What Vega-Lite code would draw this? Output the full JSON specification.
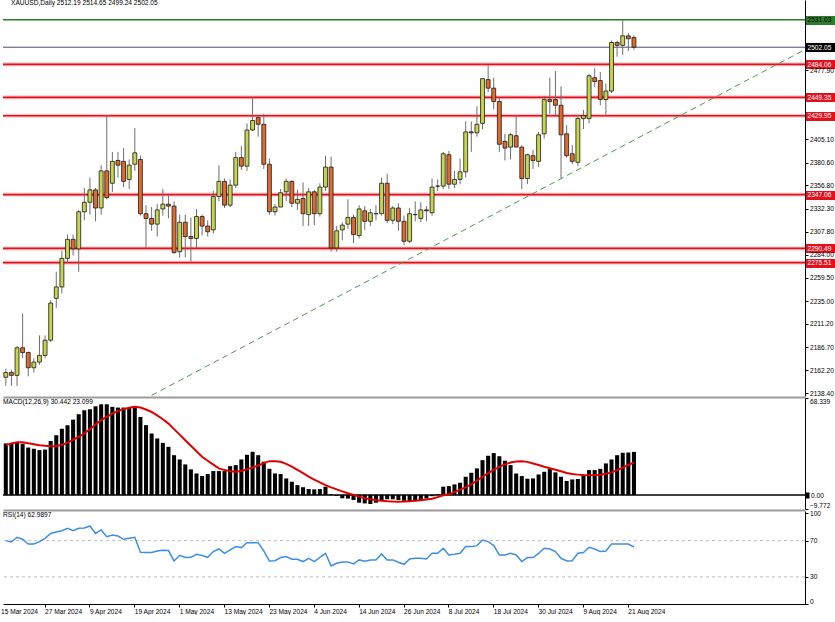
{
"$schema": "https://vega.github.io/schema/vega-lite/v6.json",
"background": "#ffffff",
"padding": {"left": 0, "top": 0, "right": 0, "bottom": 0},
"spacing": 2,
"bounds": "flush",
"config": {"view": {"stroke": null}, "font": "Liberation Sans", "axis": {"labelFont": "Liberation Sans", "labelFontSize": 6.6, "labelColor": "#000000", "grid": false}},
"resolve": {"scale": {"x": "independent", "y": "independent"}},
"datasets": {
"levels": [{"p":2531.03,"kind":"top"},{"p":2502.05,"kind":"bid"},{"p":2484.06,"kind":"res"},{"p":2449.35,"kind":"res"},{"p":2429.95,"kind":"res"},{"p":2347.06,"kind":"res"},{"p":2290.49,"kind":"res"},{"p":2275.51,"kind":"res"}],
"trend": [{"d":"2024-04-24","p":2136},{"d":"2024-10-03","p":2498}],
"zero": [{"v":0}],
"rsilv": [{"v":70},{"v":30}],
"candles": [
{"d":"2024-03-18","o":2155,"h":2164,"l":2146,"c":2160,"m":36.4,"s":35.2,"r":70},
{"d":"2024-03-19","o":2160,"h":2163,"l":2146,"c":2157,"m":36.8,"s":36.3,"r":68.5},
{"d":"2024-03-20","o":2157,"h":2188,"l":2146,"c":2186,"m":36.8,"s":37.3,"r":73.7},
{"d":"2024-03-21","o":2186,"h":2222,"l":2175,"c":2181,"m":36.2,"s":37.2,"r":71.5},
{"d":"2024-03-22","o":2181,"h":2182,"l":2156,"c":2165,"m":33.5,"s":36.6,"r":66.3},
{"d":"2024-03-25","o":2165,"h":2175,"l":2160,"c":2171,"m":32.6,"s":35.9,"r":66.3},
{"d":"2024-03-26","o":2171,"h":2199,"l":2168,"c":2178,"m":31.7,"s":35.2,"r":68.9},
{"d":"2024-03-27","o":2178,"h":2199,"l":2175,"c":2194,"m":32.1,"s":34.7,"r":72.6},
{"d":"2024-03-28","o":2194,"h":2236,"l":2192,"c":2233,"m":38.2,"s":34.5,"r":78},
{"d":"2024-04-01","o":2238,"h":2266,"l":2228,"c":2250,"m":42.2,"s":34.5,"r":79.5},
{"d":"2024-04-02","o":2250,"h":2288,"l":2243,"c":2280,"m":46.7,"s":35.5,"r":81},
{"d":"2024-04-03","o":2280,"h":2305,"l":2275,"c":2300,"m":49.3,"s":36.8,"r":83.6},
{"d":"2024-04-04","o":2300,"h":2305,"l":2283,"c":2290,"m":53.2,"s":39,"r":81},
{"d":"2024-04-05","o":2290,"h":2331,"l":2266,"c":2329,"m":57,"s":41,"r":83.6},
{"d":"2024-04-08","o":2329,"h":2354,"l":2320,"c":2339,"m":59.8,"s":43.4,"r":84},
{"d":"2024-04-09","o":2339,"h":2365,"l":2326,"c":2352,"m":60.5,"s":46.5,"r":86.2},
{"d":"2024-04-10","o":2352,"h":2354,"l":2319,"c":2333,"m":62.6,"s":49.7,"r":78},
{"d":"2024-04-11","o":2333,"h":2378,"l":2326,"c":2372,"m":64,"s":52.8,"r":81.8},
{"d":"2024-04-12","o":2372,"h":2431,"l":2342,"c":2344,"m":64,"s":55.2,"r":74.4},
{"d":"2024-04-15","o":2359,"h":2392,"l":2350,"c":2382,"m":62.2,"s":57.5,"r":76.2},
{"d":"2024-04-16","o":2383,"h":2392,"l":2365,"c":2378,"m":61.7,"s":59.3,"r":75.1},
{"d":"2024-04-17","o":2382,"h":2396,"l":2355,"c":2361,"m":61.7,"s":60.6,"r":71.5},
{"d":"2024-04-18","o":2363,"h":2384,"l":2353,"c":2378,"m":61.5,"s":61.5,"r":72.6},
{"d":"2024-04-19","o":2379,"h":2417,"l":2372,"c":2391,"m":61.5,"s":62.2,"r":73.7},
{"d":"2024-04-22","o":2384,"h":2388,"l":2325,"c":2327,"m":55.1,"s":61.7,"r":57.1},
{"d":"2024-04-23","o":2327,"h":2336,"l":2291,"c":2322,"m":49.3,"s":60.3,"r":56.8},
{"d":"2024-04-24","o":2322,"h":2334,"l":2309,"c":2316,"m":43.4,"s":58.6,"r":56.8},
{"d":"2024-04-25","o":2316,"h":2337,"l":2303,"c":2331,"m":39.9,"s":56.2,"r":58.6},
{"d":"2024-04-26","o":2332,"h":2353,"l":2325,"c":2337,"m":36.8,"s":53.5,"r":59.3},
{"d":"2024-04-29","o":2337,"h":2346,"l":2322,"c":2335,"m":34,"s":50.4,"r":59},
{"d":"2024-04-30","o":2335,"h":2340,"l":2285,"c":2286,"m":28.1,"s":46.5,"r":47.6},
{"d":"2024-05-01","o":2287,"h":2326,"l":2281,"c":2318,"m":25.1,"s":42.6,"r":53.8},
{"d":"2024-05-02","o":2318,"h":2326,"l":2281,"c":2303,"m":21.6,"s":38.7,"r":51.3},
{"d":"2024-05-03","o":2303,"h":2323,"l":2277,"c":2301,"m":18.1,"s":34.8,"r":51.6},
{"d":"2024-05-06","o":2301,"h":2332,"l":2291,"c":2324,"m":15.2,"s":30.9,"r":54.9},
{"d":"2024-05-07","o":2324,"h":2326,"l":2304,"c":2314,"m":13.4,"s":27,"r":53.5},
{"d":"2024-05-08","o":2314,"h":2320,"l":2303,"c":2308,"m":14.8,"s":24.2,"r":51.6},
{"d":"2024-05-09","o":2310,"h":2351,"l":2306,"c":2345,"m":16.9,"s":21.5,"r":57.9},
{"d":"2024-05-10","o":2345,"h":2378,"l":2340,"c":2361,"m":16.9,"s":18.8,"r":60.8},
{"d":"2024-05-13","o":2361,"h":2364,"l":2333,"c":2336,"m":16.9,"s":17.6,"r":56},
{"d":"2024-05-14","o":2336,"h":2363,"l":2334,"c":2357,"m":20.4,"s":16.8,"r":59.7},
{"d":"2024-05-15","o":2357,"h":2392,"l":2354,"c":2386,"m":21.1,"s":16.4,"r":63.4},
{"d":"2024-05-16","o":2386,"h":2398,"l":2373,"c":2377,"m":25.1,"s":17,"r":62.3},
{"d":"2024-05-17","o":2377,"h":2422,"l":2372,"c":2415,"m":28.4,"s":18.1,"r":67.8},
{"d":"2024-05-20","o":2415,"h":2450,"l":2414,"c":2425,"m":30.5,"s":19.4,"r":67.8},
{"d":"2024-05-21","o":2428,"h":2430,"l":2408,"c":2421,"m":28.1,"s":20.8,"r":67.8},
{"d":"2024-05-22","o":2421,"h":2432,"l":2374,"c":2379,"m":23.5,"s":22.5,"r":58.6},
{"d":"2024-05-23","o":2379,"h":2385,"l":2326,"c":2329,"m":18.5,"s":23.9,"r":47.6},
{"d":"2024-05-24","o":2329,"h":2337,"l":2325,"c":2334,"m":15.2,"s":23.9,"r":47.9},
{"d":"2024-05-27","o":2334,"h":2353,"l":2334,"c":2349,"m":14.8,"s":23.5,"r":51.3},
{"d":"2024-05-28","o":2350,"h":2364,"l":2340,"c":2361,"m":11.7,"s":22,"r":52.4},
{"d":"2024-05-29","o":2361,"h":2362,"l":2334,"c":2338,"m":9.4,"s":20,"r":49.4},
{"d":"2024-05-30","o":2338,"h":2352,"l":2331,"c":2342,"m":7,"s":17.8,"r":49.4},
{"d":"2024-05-31","o":2343,"h":2360,"l":2314,"c":2327,"m":5.5,"s":15.4,"r":46.9},
{"d":"2024-06-03","o":2326,"h":2354,"l":2314,"c":2350,"m":4.2,"s":13,"r":50.5},
{"d":"2024-06-04","o":2350,"h":2352,"l":2315,"c":2327,"m":4,"s":10.8,"r":46.9},
{"d":"2024-06-05","o":2327,"h":2359,"l":2324,"c":2355,"m":4.2,"s":9,"r":51.6},
{"d":"2024-06-06","o":2355,"h":2388,"l":2351,"c":2376,"m":5.9,"s":7,"r":56},
{"d":"2024-06-07","o":2376,"h":2387,"l":2287,"c":2291,"m":0.5,"s":5.4,"r":42.1},
{"d":"2024-06-10","o":2291,"h":2314,"l":2287,"c":2309,"m":-0.7,"s":4,"r":45},
{"d":"2024-06-11","o":2310,"h":2318,"l":2299,"c":2315,"m":-2.3,"s":2.6,"r":46.5},
{"d":"2024-06-12","o":2316,"h":2342,"l":2311,"c":2323,"m":-2.5,"s":1.3,"r":46.5},
{"d":"2024-06-13","o":2323,"h":2326,"l":2296,"c":2305,"m":-3.5,"s":0.1,"r":44.3},
{"d":"2024-06-14","o":2304,"h":2336,"l":2301,"c":2332,"m":-5.4,"s":-1.1,"r":48.7},
{"d":"2024-06-17","o":2330,"h":2335,"l":2310,"c":2319,"m":-5.9,"s":-2.2,"r":47.2},
{"d":"2024-06-18","o":2319,"h":2332,"l":2314,"c":2328,"m":-6.3,"s":-3,"r":48.7},
{"d":"2024-06-19","o":2327,"h":2336,"l":2320,"c":2327,"m":-5.4,"s":-3.6,"r":48.7},
{"d":"2024-06-20","o":2327,"h":2365,"l":2325,"c":2359,"m":-4,"s":-4.1,"r":55.3},
{"d":"2024-06-21","o":2359,"h":2369,"l":2317,"c":2320,"m":-3,"s":-4.4,"r":48.7},
{"d":"2024-06-24","o":2320,"h":2335,"l":2316,"c":2333,"m":-3,"s":-4.6,"r":48.7},
{"d":"2024-06-25","o":2333,"h":2338,"l":2309,"c":2319,"m":-3.5,"s":-4.7,"r":46.1},
{"d":"2024-06-26","o":2319,"h":2325,"l":2294,"c":2298,"m":-4,"s":-4.6,"r":43.9},
{"d":"2024-06-27","o":2298,"h":2333,"l":2296,"c":2327,"m":-4.3,"s":-4.3,"r":49.8},
{"d":"2024-06-28","o":2326,"h":2340,"l":2319,"c":2326,"m":-4,"s":-4,"r":50.5},
{"d":"2024-07-01","o":2322,"h":2339,"l":2318,"c":2331,"m":-3.5,"s":-3.6,"r":50.5},
{"d":"2024-07-02","o":2331,"h":2335,"l":2319,"c":2330,"m":-2.5,"s":-3.2,"r":49.8},
{"d":"2024-07-03","o":2328,"h":2364,"l":2325,"c":2355,"m":-0.8,"s":-2.6,"r":56},
{"d":"2024-07-04","o":2356,"h":2363,"l":2351,"c":2356,"m":0.5,"s":-1.5,"r":56},
{"d":"2024-07-05","o":2356,"h":2392,"l":2353,"c":2390,"m":5.9,"s":-0.2,"r":61.6},
{"d":"2024-07-08","o":2389,"h":2393,"l":2353,"c":2358,"m":6.3,"s":0.5,"r":54.2},
{"d":"2024-07-09","o":2358,"h":2372,"l":2354,"c":2363,"m":7.5,"s":2,"r":54.9},
{"d":"2024-07-10","o":2363,"h":2385,"l":2358,"c":2371,"m":8.7,"s":3.8,"r":56},
{"d":"2024-07-11","o":2371,"h":2424,"l":2365,"c":2413,"m":12.9,"s":5.4,"r":63.4},
{"d":"2024-07-12","o":2413,"h":2424,"l":2392,"c":2412,"m":15.7,"s":7.6,"r":63.4},
{"d":"2024-07-15","o":2412,"h":2440,"l":2408,"c":2421,"m":18.8,"s":10.2,"r":64.5},
{"d":"2024-07-16","o":2422,"h":2469,"l":2416,"c":2469,"m":24.6,"s":12.9,"r":70.7},
{"d":"2024-07-17","o":2468,"h":2483,"l":2455,"c":2459,"m":27.7,"s":15.4,"r":68.9},
{"d":"2024-07-18","o":2459,"h":2470,"l":2437,"c":2445,"m":29.6,"s":17.8,"r":64.5},
{"d":"2024-07-19","o":2445,"h":2449,"l":2392,"c":2400,"m":27.4,"s":19.9,"r":54.2},
{"d":"2024-07-22","o":2403,"h":2411,"l":2383,"c":2396,"m":24.2,"s":21.6,"r":54.2},
{"d":"2024-07-23","o":2397,"h":2412,"l":2384,"c":2410,"m":21.1,"s":22.9,"r":56},
{"d":"2024-07-24","o":2409,"h":2431,"l":2404,"c":2397,"m":15.2,"s":23.6,"r":54.2},
{"d":"2024-07-25","o":2397,"h":2399,"l":2353,"c":2364,"m":13.4,"s":23.9,"r":46.9},
{"d":"2024-07-26","o":2364,"h":2390,"l":2358,"c":2389,"m":11.5,"s":23.4,"r":51.3},
{"d":"2024-07-29","o":2388,"h":2394,"l":2374,"c":2383,"m":11.7,"s":22.3,"r":51.3},
{"d":"2024-07-30","o":2382,"h":2413,"l":2376,"c":2410,"m":14.5,"s":21.2,"r":56},
{"d":"2024-07-31","o":2411,"h":2451,"l":2406,"c":2447,"m":16.4,"s":20,"r":61.6},
{"d":"2024-08-01","o":2447,"h":2470,"l":2432,"c":2445,"m":18.3,"s":18.9,"r":60.8},
{"d":"2024-08-02","o":2447,"h":2477,"l":2431,"c":2441,"m":16,"s":17.8,"r":57.9},
{"d":"2024-08-05","o":2441,"h":2461,"l":2364,"c":2410,"m":12.9,"s":16.8,"r":50.5},
{"d":"2024-08-06","o":2411,"h":2420,"l":2386,"c":2388,"m":9.9,"s":15.6,"r":47.6},
{"d":"2024-08-07","o":2390,"h":2399,"l":2379,"c":2382,"m":11,"s":14.9,"r":47.9},
{"d":"2024-08-08","o":2381,"h":2431,"l":2377,"c":2427,"m":11.3,"s":14.4,"r":56},
{"d":"2024-08-09","o":2427,"h":2436,"l":2416,"c":2430,"m":14.1,"s":14.1,"r":56.8},
{"d":"2024-08-12","o":2427,"h":2474,"l":2422,"c":2472,"m":17.6,"s":14,"r":62.7},
{"d":"2024-08-13","o":2470,"h":2480,"l":2460,"c":2466,"m":17.6,"s":14.1,"r":60.8},
{"d":"2024-08-14","o":2467,"h":2476,"l":2441,"c":2447,"m":18.5,"s":14.3,"r":57.9},
{"d":"2024-08-15","o":2447,"h":2464,"l":2431,"c":2456,"m":22.3,"s":15,"r":58.6},
{"d":"2024-08-16","o":2456,"h":2509,"l":2454,"c":2507,"m":25.1,"s":16,"r":66.3},
{"d":"2024-08-19","o":2507,"h":2509,"l":2492,"c":2504,"m":28.1,"s":17.6,"r":66.3},
{"d":"2024-08-20","o":2504,"h":2531,"l":2494,"c":2514,"m":29.8,"s":19.3,"r":66.3},
{"d":"2024-08-21","o":2514,"h":2517,"l":2498,"c":2511,"m":30,"s":21.2,"r":66.3},
{"d":"2024-08-22","o":2512.19,"h":2514.65,"l":2499.24,"c":2502.05,"m":30.44,"s":23.1,"r":62.99}
]
},
"vconcat": [
{
"width": 802, "height": 396,
"title": {"text": "XAUUSD,Daily  2512.19 2514.65 2499.24 2502.05", "anchor": "start", "frame": "group", "offset": 0, "baseline": "top", "dx": 8, "dy": 7, "fontSize": 6.6, "fontWeight": "normal", "font": "Liberation Sans", "color": "#000000"},
"resolve": {"axis": {"y": "independent"}},
"layer": [
{"data": {"name": "levels"}, "transform": [{"filter": "datum.kind == 'res'"}],
 "mark": {"type": "rule", "color": "#ff8a8a", "strokeWidth": 4, "opacity": 0.45},
 "encoding": {"y": {"field": "p", "type": "quantitative", "scale": {"domain": [2135.3, 2551.7], "zero": false, "nice": false},
  "axis": {"orient": "right", "title": null, "grid": false, "format": ".2f",
   "values": [2138.4, 2162.2, 2186.7, 2211.2, 2235, 2259.5, 2284, 2307.8, 2332.3, 2356.8, 2380.6, 2405.1, 2477.9, 2275.51, 2290.49, 2347.06, 2429.95, 2449.35, 2484.06, 2502.05, 2531.03],
   "domainColor": "#000000", "domainWidth": 1, "labelOverlap": false, "labelBound": false, "labelFlush": false, "labelFontSize": 6.6,
   "tickColor": {"condition": [{"test": "datum.value == 2531.03", "value": "#2e7b2e"}, {"test": "datum.value == 2502.05", "value": "#000000"}, {"test": "indexof([2484.06,2449.35,2429.95,2347.06,2290.49,2275.51], datum.value) >= 0", "value": "#e3101e"}], "value": "#000000"},
   "tickSize": {"condition": {"test": "indexof([2531.03,2502.05,2484.06,2449.35,2429.95,2347.06,2290.49,2275.51], datum.value) >= 0", "value": 31}, "value": 3},
   "tickWidth": {"condition": {"test": "indexof([2531.03,2502.05,2484.06,2449.35,2429.95,2347.06,2290.49,2275.51], datum.value) >= 0", "value": 9}, "value": 1},
   "labelPadding": {"condition": {"test": "indexof([2531.03,2502.05,2484.06,2449.35,2429.95,2347.06,2290.49,2275.51], datum.value) >= 0", "value": -29}, "value": 1.5},
   "labelColor": {"condition": [{"test": "datum.value == 2531.03", "value": "#000000"}, {"test": "indexof([2502.05,2484.06,2449.35,2429.95,2347.06,2290.49,2275.51], datum.value) >= 0", "value": "#ffffff"}], "value": "#000000"}
  }}}},
{"data": {"name": "levels"}, "transform": [{"filter": "datum.kind == 'res'"}],
 "mark": {"type": "rule", "color": "#e3101e", "strokeWidth": 1.6},
 "encoding": {"y": {"field": "p", "type": "quantitative", "scale": {"domain": [2135.3, 2551.7], "zero": false, "nice": false}, "axis": null}}},
{"data": {"name": "levels"}, "transform": [{"filter": "datum.kind == 'top'"}],
 "mark": {"type": "rule", "color": "#2e7b2e", "strokeWidth": 1.5},
 "encoding": {"y": {"field": "p", "type": "quantitative", "scale": {"domain": [2135.3, 2551.7], "zero": false, "nice": false}, "axis": null}}},
{"data": {"name": "levels"}, "transform": [{"filter": "datum.kind == 'bid'"}],
 "mark": {"type": "rule", "color": "#4d4d6e", "strokeWidth": 1},
 "encoding": {"y": {"field": "p", "type": "quantitative", "scale": {"domain": [2135.3, 2551.7], "zero": false, "nice": false}, "axis": null}}},
{"encoding": {"x": {"field": "d", "type": "ordinal",
  "scale": {"type": "band", "paddingInner": 0, "paddingOuter": 0, "domain": ["2024-03-18","2024-03-19","2024-03-20","2024-03-21","2024-03-22","2024-03-25","2024-03-26","2024-03-27","2024-03-28","2024-04-01","2024-04-02","2024-04-03","2024-04-04","2024-04-05","2024-04-08","2024-04-09","2024-04-10","2024-04-11","2024-04-12","2024-04-15","2024-04-16","2024-04-17","2024-04-18","2024-04-19","2024-04-22","2024-04-23","2024-04-24","2024-04-25","2024-04-26","2024-04-29","2024-04-30","2024-05-01","2024-05-02","2024-05-03","2024-05-06","2024-05-07","2024-05-08","2024-05-09","2024-05-10","2024-05-13","2024-05-14","2024-05-15","2024-05-16","2024-05-17","2024-05-20","2024-05-21","2024-05-22","2024-05-23","2024-05-24","2024-05-27","2024-05-28","2024-05-29","2024-05-30","2024-05-31","2024-06-03","2024-06-04","2024-06-05","2024-06-06","2024-06-07","2024-06-10","2024-06-11","2024-06-12","2024-06-13","2024-06-14","2024-06-17","2024-06-18","2024-06-19","2024-06-20","2024-06-21","2024-06-24","2024-06-25","2024-06-26","2024-06-27","2024-06-28","2024-07-01","2024-07-02","2024-07-03","2024-07-04","2024-07-05","2024-07-08","2024-07-09","2024-07-10","2024-07-11","2024-07-12","2024-07-15","2024-07-16","2024-07-17","2024-07-18","2024-07-19","2024-07-22","2024-07-23","2024-07-24","2024-07-25","2024-07-26","2024-07-29","2024-07-30","2024-07-31","2024-08-01","2024-08-02","2024-08-05","2024-08-06","2024-08-07","2024-08-08","2024-08-09","2024-08-12","2024-08-13","2024-08-14","2024-08-15","2024-08-16","2024-08-19","2024-08-20","2024-08-21","2024-08-22","2024-08-23","2024-08-26","2024-08-27","2024-08-28","2024-08-29","2024-08-30","2024-09-02","2024-09-03","2024-09-04","2024-09-05","2024-09-06","2024-09-09","2024-09-10","2024-09-11","2024-09-12","2024-09-13","2024-09-16","2024-09-17","2024-09-18","2024-09-19","2024-09-20","2024-09-23","2024-09-24","2024-09-25","2024-09-26","2024-09-27","2024-09-30","2024-10-01","2024-10-02","2024-10-03"]},
  "axis": {"title": null, "labels": false, "ticks": false, "domain": true, "domainColor": "#9b9b9b", "domainWidth": 2, "offset": 1, "grid": false}}},
 "layer": [
  {"data": {"name": "trend"}, "mark": {"type": "line", "color": "#4e9a4e", "strokeWidth": 1, "strokeDash": [6, 4]},
   "encoding": {"y": {"field": "p", "type": "quantitative", "scale": {"domain": [2135.3, 2551.7], "zero": false, "nice": false}, "axis": null}}},
  {"data": {"name": "candles"}, "mark": {"type": "rule", "color": "#6e6e6e", "strokeWidth": 1},
   "encoding": {"y": {"field": "l", "type": "quantitative", "scale": {"domain": [2135.3, 2551.7], "zero": false, "nice": false}, "axis": null}, "y2": {"field": "h"}}},
  {"data": {"name": "candles"}, "mark": {"type": "bar", "width": {"band": 0.7}, "stroke": "#1a1a1a", "strokeWidth": 0.8},
   "encoding": {"y": {"field": "o", "type": "quantitative", "scale": {"domain": [2135.3, 2551.7], "zero": false, "nice": false}, "axis": null}, "y2": {"field": "c"},
    "fill": {"condition": {"test": "datum.c >= datum.o", "value": "#c6d44e"}, "value": "#e06a2c"}}}
 ]}
]
},
{
"width": 802, "height": 111,
"title": {"text": "MACD(12,26,9) 30.442 23.099", "anchor": "start", "frame": "group", "offset": 0, "baseline": "top", "dx": 0, "dy": 8.5, "fontSize": 6.6, "fontWeight": "normal", "font": "Liberation Sans", "color": "#000000"},
"resolve": {"axis": {"y": "independent"}},
"layer": [
{"data": {"name": "zero"}, "mark": {"type": "rule", "color": "#000000", "strokeWidth": 1.5},
 "encoding": {"y": {"field": "v", "type": "quantitative", "scale": {"domain": [-9.85, 68.45], "zero": false, "nice": false},
  "axis": {"orient": "right", "title": null, "grid": false, "values": [68.339, 0, -9.772],
   "labelExpr": "datum.value == 0 ? '0.00' : format(datum.value, '.3f')",
   "domainColor": "#000000", "labelOverlap": false, "labelBound": false, "labelFlush": false, "labelFontSize": 6.6,
   "tickColor": "#000000",
   "tickSize": {"condition": {"test": "datum.value == 0", "value": 4}, "value": 3},
   "tickWidth": {"condition": {"test": "datum.value == 0", "value": 6}, "value": 1},
   "labelPadding": 1.5,
   "labelBaseline": {"condition": [{"test": "datum.value > 60", "value": "top"}, {"test": "datum.value < -5", "value": "bottom"}], "value": "middle"}
  }}}},
{"data": {"name": "candles"},
 "encoding": {"x": {"field": "d", "type": "ordinal",
  "scale": {"type": "band", "paddingInner": 0, "paddingOuter": 0, "domain": ["2024-03-18","2024-03-19","2024-03-20","2024-03-21","2024-03-22","2024-03-25","2024-03-26","2024-03-27","2024-03-28","2024-04-01","2024-04-02","2024-04-03","2024-04-04","2024-04-05","2024-04-08","2024-04-09","2024-04-10","2024-04-11","2024-04-12","2024-04-15","2024-04-16","2024-04-17","2024-04-18","2024-04-19","2024-04-22","2024-04-23","2024-04-24","2024-04-25","2024-04-26","2024-04-29","2024-04-30","2024-05-01","2024-05-02","2024-05-03","2024-05-06","2024-05-07","2024-05-08","2024-05-09","2024-05-10","2024-05-13","2024-05-14","2024-05-15","2024-05-16","2024-05-17","2024-05-20","2024-05-21","2024-05-22","2024-05-23","2024-05-24","2024-05-27","2024-05-28","2024-05-29","2024-05-30","2024-05-31","2024-06-03","2024-06-04","2024-06-05","2024-06-06","2024-06-07","2024-06-10","2024-06-11","2024-06-12","2024-06-13","2024-06-14","2024-06-17","2024-06-18","2024-06-19","2024-06-20","2024-06-21","2024-06-24","2024-06-25","2024-06-26","2024-06-27","2024-06-28","2024-07-01","2024-07-02","2024-07-03","2024-07-04","2024-07-05","2024-07-08","2024-07-09","2024-07-10","2024-07-11","2024-07-12","2024-07-15","2024-07-16","2024-07-17","2024-07-18","2024-07-19","2024-07-22","2024-07-23","2024-07-24","2024-07-25","2024-07-26","2024-07-29","2024-07-30","2024-07-31","2024-08-01","2024-08-02","2024-08-05","2024-08-06","2024-08-07","2024-08-08","2024-08-09","2024-08-12","2024-08-13","2024-08-14","2024-08-15","2024-08-16","2024-08-19","2024-08-20","2024-08-21","2024-08-22","2024-08-23","2024-08-26","2024-08-27","2024-08-28","2024-08-29","2024-08-30","2024-09-02","2024-09-03","2024-09-04","2024-09-05","2024-09-06","2024-09-09","2024-09-10","2024-09-11","2024-09-12","2024-09-13","2024-09-16","2024-09-17","2024-09-18","2024-09-19","2024-09-20","2024-09-23","2024-09-24","2024-09-25","2024-09-26","2024-09-27","2024-09-30","2024-10-01","2024-10-02","2024-10-03"]},
  "axis": {"title": null, "labels": false, "ticks": false, "domain": true, "domainColor": "#9b9b9b", "domainWidth": 2, "offset": 1, "grid": false}}},
 "layer": [
  {"mark": {"type": "bar", "width": {"band": 0.72}, "color": "#000000"},
   "encoding": {"y": {"field": "m", "type": "quantitative", "scale": {"domain": [-9.85, 68.45], "zero": false, "nice": false}, "axis": null}, "y2": {"datum": 0}}},
  {"mark": {"type": "line", "color": "#e00000", "strokeWidth": 2},
   "encoding": {"y": {"field": "s", "type": "quantitative", "scale": {"domain": [-9.85, 68.45], "zero": false, "nice": false}, "axis": null}}}
 ]}
]
},
{
"width": 802, "height": 93,
"title": {"text": "RSI(14) 62.9897", "anchor": "start", "frame": "group", "offset": 0, "baseline": "top", "dx": 0, "dy": 8, "fontSize": 6.6, "fontWeight": "normal", "font": "Liberation Sans", "color": "#000000"},
"resolve": {"axis": {"y": "independent"}},
"layer": [
{"data": {"name": "rsilv"}, "mark": {"type": "rule", "color": "#bdbdbd", "strokeWidth": 1, "strokeDash": [3, 3]},
 "encoding": {"y": {"field": "v", "type": "quantitative", "scale": {"domain": [0, 102.75], "zero": false, "nice": false},
  "axis": {"orient": "right", "title": null, "grid": false, "values": [100, 70, 30, 0],
   "domainColor": "#000000", "tickColor": "#000000", "tickSize": 3, "labelPadding": 1.5, "labelFontSize": 6.6,
   "labelOverlap": false, "labelBound": false, "labelFlush": false,
   "labelBaseline": {"condition": {"test": "datum.value == 0", "value": "bottom"}, "value": "middle"}
  }}}},
{"data": {"name": "candles"}, "mark": {"type": "line", "color": "#3d8fe0", "strokeWidth": 1.5},
 "encoding": {
  "x": {"field": "d", "type": "ordinal",
   "scale": {"type": "band", "paddingInner": 0, "paddingOuter": 0, "domain": ["2024-03-18","2024-03-19","2024-03-20","2024-03-21","2024-03-22","2024-03-25","2024-03-26","2024-03-27","2024-03-28","2024-04-01","2024-04-02","2024-04-03","2024-04-04","2024-04-05","2024-04-08","2024-04-09","2024-04-10","2024-04-11","2024-04-12","2024-04-15","2024-04-16","2024-04-17","2024-04-18","2024-04-19","2024-04-22","2024-04-23","2024-04-24","2024-04-25","2024-04-26","2024-04-29","2024-04-30","2024-05-01","2024-05-02","2024-05-03","2024-05-06","2024-05-07","2024-05-08","2024-05-09","2024-05-10","2024-05-13","2024-05-14","2024-05-15","2024-05-16","2024-05-17","2024-05-20","2024-05-21","2024-05-22","2024-05-23","2024-05-24","2024-05-27","2024-05-28","2024-05-29","2024-05-30","2024-05-31","2024-06-03","2024-06-04","2024-06-05","2024-06-06","2024-06-07","2024-06-10","2024-06-11","2024-06-12","2024-06-13","2024-06-14","2024-06-17","2024-06-18","2024-06-19","2024-06-20","2024-06-21","2024-06-24","2024-06-25","2024-06-26","2024-06-27","2024-06-28","2024-07-01","2024-07-02","2024-07-03","2024-07-04","2024-07-05","2024-07-08","2024-07-09","2024-07-10","2024-07-11","2024-07-12","2024-07-15","2024-07-16","2024-07-17","2024-07-18","2024-07-19","2024-07-22","2024-07-23","2024-07-24","2024-07-25","2024-07-26","2024-07-29","2024-07-30","2024-07-31","2024-08-01","2024-08-02","2024-08-05","2024-08-06","2024-08-07","2024-08-08","2024-08-09","2024-08-12","2024-08-13","2024-08-14","2024-08-15","2024-08-16","2024-08-19","2024-08-20","2024-08-21","2024-08-22","2024-08-23","2024-08-26","2024-08-27","2024-08-28","2024-08-29","2024-08-30","2024-09-02","2024-09-03","2024-09-04","2024-09-05","2024-09-06","2024-09-09","2024-09-10","2024-09-11","2024-09-12","2024-09-13","2024-09-16","2024-09-17","2024-09-18","2024-09-19","2024-09-20","2024-09-23","2024-09-24","2024-09-25","2024-09-26","2024-09-27","2024-09-30","2024-10-01","2024-10-02","2024-10-03"]},
   "axis": {"title": null, "grid": false, "labelAngle": 0,
    "values": ["2024-03-18","2024-03-27","2024-04-09","2024-04-19","2024-05-01","2024-05-13","2024-05-23","2024-06-04","2024-06-14","2024-06-26","2024-07-08","2024-07-18","2024-07-30","2024-08-09","2024-08-21"],
    "labelExpr": "datum.value == '2024-03-18' ? '15 Mar 2024' : utcFormat(toDate(datum.value), '%-d %b %Y')",
    "labelOffset": {"condition": {"test": "datum.value == '2024-03-18'", "value": -4.8}, "value": 0},
    "tickOpacity": {"condition": {"test": "datum.value == '2024-03-18'", "value": 0}, "value": 1},
    "labelAlign": "left", "labelBaseline": "top", "labelPadding": 1, "labelFontSize": 6.6,
    "tickSize": 3, "tickColor": "#000000", "domainColor": "#000000", "domainWidth": 1,
    "labelOverlap": false, "labelBound": false, "labelFlush": false}},
  "y": {"field": "r", "type": "quantitative", "scale": {"domain": [0, 102.75], "zero": false, "nice": false}, "axis": null}}}
]
}
]
}
